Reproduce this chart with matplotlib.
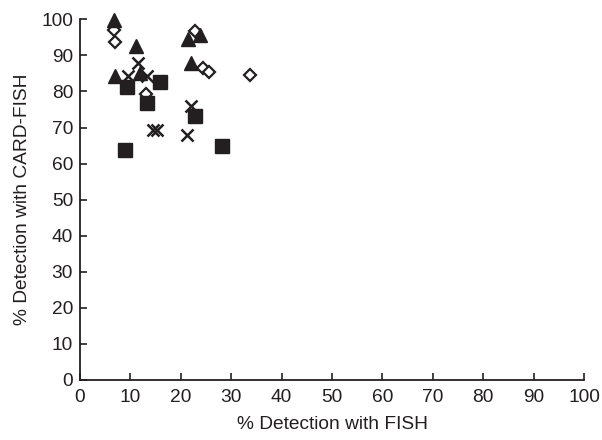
import matplotlib
matplotlib.use("Agg")
import matplotlib.pyplot as plt

plt.rcParams['font.family'] = ['Liberation Sans', 'DejaVu Sans']

tri_x = [6.8, 11.2, 7.0, 12.0, 21.4, 23.9, 22.1]
tri_y = [99.8, 92.5, 84.2, 85.1, 94.5, 95.7, 87.9]

dia_x = [6.8, 7.0, 13.0, 22.9, 24.4, 25.6, 33.7]
dia_y = [97.1, 93.6, 79.4, 96.7, 86.5, 85.3, 84.6]

crs_x = [11.5, 9.6, 13.3, 14.4, 15.3, 22.0, 21.3]
crs_y = [87.9, 84.2, 84.2, 69.2, 69.2, 76.0, 67.9]

sq_x = [9.3, 15.8, 13.3, 9.0, 22.9, 28.1]
sq_y = [81.2, 82.5, 76.8, 63.8, 73.2, 64.9]

ticks = list(range(0, 101, 10))
col = '#231f20'

fig = plt.figure(figsize=(6.02, 4.40), dpi=100)
ax = fig.add_axes([0.1329, 0.1364, 0.8372, 0.8197])

ax.plot(dia_x, dia_y, linestyle='none', marker='D', ms=6, mfc='white', mec=col, mew=1.6, clip_on=False)
ax.plot(crs_x, crs_y, linestyle='none', marker='x', ms=8.5, mec=col, mew=1.8, clip_on=False)
ax.plot(sq_x, sq_y, linestyle='none', marker='s', ms=9.5, mfc=col, mec=col, clip_on=False)
ax.plot(tri_x, tri_y, linestyle='none', marker='^', ms=9.5, mfc=col, mec=col, clip_on=False)

ax.set_xlim(0, 100)
ax.set_ylim(0, 100)
ax.set_xticks(ticks)
ax.set_yticks(ticks)
ax.tick_params(direction='in', length=5, width=1.2, labelsize=13.8, colors=col)
ax.tick_params(axis='x', pad=6.5)
ax.tick_params(axis='y', pad=5)
for s in ['top', 'right']:
    ax.spines[s].set_visible(False)
for s in ['left', 'bottom']:
    ax.spines[s].set_linewidth(1.3)
    ax.spines[s].set_color(col)

ax.set_xlabel('% Detection with FISH', fontsize=13.8, color=col, labelpad=7)
ax.set_ylabel('% Detection with CARD-FISH', fontsize=13.8, color=col, labelpad=7)

fig.savefig('out.png', dpi=100)
